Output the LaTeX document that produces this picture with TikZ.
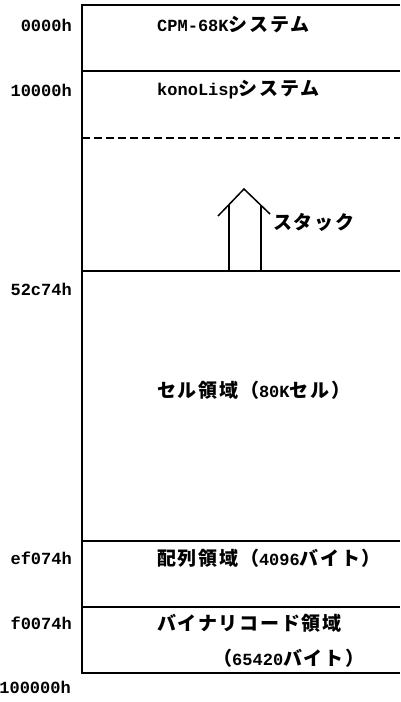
\documentclass[tikz,border=0pt]{standalone}
\usepackage{fontspec}
\setmainfont{Liberation Mono}
\newfontfamily\jp{Noto Sans CJK JP Bold}[LetterSpace=9]
\newcommand{\J}[1]{{\jp\fontsize{19}{21}\selectfont #1}}
\begin{document}
\begin{tikzpicture}[x=1pt,y=-1pt,
  wall/.style={line width=1.8pt},
  addr/.style={anchor=east,inner sep=0pt,font=\fontsize{17}{19}\selectfont\bfseries},
  region/.style={anchor=west,inner sep=0pt,font=\fontsize{17}{19}\selectfont\bfseries}]
\useasboundingbox (0,0) rectangle (400,702);
% memory map outline
\draw[wall] (400,5) -- (82,5) -- (82,673) -- (400,673);
\foreach \yy in {71,271,541,607} \draw[wall] (82,\yy) -- (400,\yy);
\draw[line width=1.4pt,dash pattern=on 8pt off 4pt] (82,138) -- (400,138);
% stack arrow
\draw[line width=1.5pt] (229,271) -- (229,205) (261,271) -- (261,206);
\draw[line width=1.5pt] (218,216) -- (244,189) -- (270,214);
% addresses
\node[addr] (a0) at (72,25) {0000h};
\node[addr] (a1) at (72,90) {10000h};
\node[addr] (a2) at (72,289) {52c74h};
\node[addr] (a3) at (72,558) {ef074h};
\node[addr] (a4) at (72,623) {f0074h};
\node[addr] (a5) at (71,687) {100000h};
% region labels
\node[region] (r0) at (157,25) {CPM-68K\J{システム}};
\node[region] (r1) at (157,90) {konoLisp\J{システム}};
\node[region] (st) at (273,222) {\J{スタック}};
\node[region] (r2) at (157,390) {\J{セル領域（}80K\J{セル）}};
\node[region] (r3) at (157,558) {\J{配列領域（}4096\J{バイト）}};
\node[region] (r4) at (157,623) {\J{バイナリコード領域}};
\node[region] (r5) at (213,658) {\J{（}65420\J{バイト）}};
\end{tikzpicture}
\end{document}
